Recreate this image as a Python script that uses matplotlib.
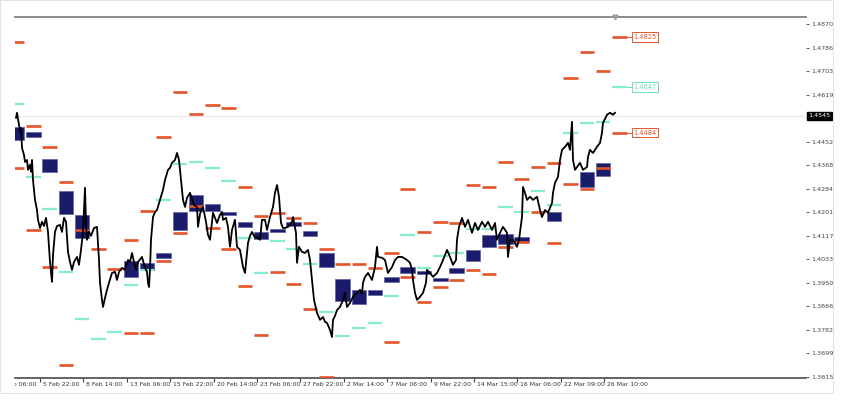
import numpy as np
import matplotlib
matplotlib.use('Agg')
import matplotlib.pyplot as plt
from matplotlib.patches import Rectangle
from matplotlib.transforms import Bbox, TransformedBbox

# close path, x = bar index
price_t = [-24, -23, -21, -20, -19, -18, -16, -15, -13, -12,
           -10, -9, -8, -7, -5, -3, -2, 0, 2, 4,
           6, 8, 10, 12, 13, 15, 17, 20, 22, 24,
           26, 28, 30, 32, 34, 37, 39, 41, 43, 45,
           46, 47, 49, 51, 54, 57, 59, 60, 62, 63,
           65, 67, 69, 72, 75, 77, 79, 82, 85, 88,
           90, 92, 94, 96, 98, 102, 105, 107, 108, 109,
           110, 111, 113, 115, 117, 120, 123, 125, 128, 130,
           132, 135, 137, 139, 140, 142, 143, 145, 147, 150,
           154, 157, 158, 160, 163, 166, 168, 170, 173, 177,
           180, 182, 183, 186, 188, 190, 192, 195, 197, 200,
           203, 205, 208, 210, 212, 215, 217, 220, 222, 225,
           227, 230, 233, 235, 237, 239, 241, 243, 245, 248,
           252, 253, 256, 257, 259, 262, 265, 268, 270, 272,
           274, 277, 280, 283, 285, 287, 290, 292, 293, 295,
           297, 300, 303, 305, 307, 310, 313, 317, 320, 322,
           323, 325, 328, 332, 335, 337, 338, 342, 345, 348,
           352, 355, 358, 362, 367, 370, 372, 373, 375, 377,
           380, 383, 386, 387, 390, 393, 397, 400, 403, 407,
           410, 413, 416, 417, 419, 422, 425, 428, 432, 435,
           438, 442, 445, 448, 452, 455, 457, 459, 463, 467,
           468, 470, 473, 477, 479, 482, 483, 485, 487, 490,
           493, 497, 500, 502, 505, 508, 512, 513, 515, 518,
           520, 522, 525, 528, 530, 532, 533, 535, 537, 540,
           543, 547, 548, 550, 553, 557, 560, 562, 563, 567,
           570, 573, 575]
price_v = [1.4537, 1.4555, 1.4512, 1.4487, 1.4501, 1.4430, 1.4405, 1.4380, 1.4387, 1.4352,
           1.4370, 1.4345, 1.4387, 1.4316, 1.4245, 1.4209, 1.4174, 1.4145, 1.4167, 1.4152,
           1.4181, 1.4131, 1.4024, 1.3953, 1.4049, 1.4131, 1.4152, 1.4156, 1.4131, 1.4181,
           1.4167, 1.4060, 1.4024, 1.3996, 1.4024, 1.4042, 1.4014, 1.4067, 1.4131, 1.4288,
           1.4156, 1.4103, 1.4131, 1.4117, 1.4145, 1.4149, 1.4031, 1.3950, 1.3889, 1.3864,
           1.3896, 1.3925, 1.3950, 1.3985, 1.3989, 1.3960, 1.3989, 1.4003, 1.3996, 1.4031,
           1.4024, 1.4056, 1.4024, 1.3996, 1.4024, 1.4042, 1.4003, 1.3989, 1.3950, 1.3935,
           1.3996, 1.4103, 1.4184, 1.4202, 1.4209, 1.4245, 1.4281, 1.4316, 1.4352, 1.4359,
           1.4377, 1.4387, 1.4412, 1.4387, 1.4352, 1.4281, 1.4245, 1.4220, 1.4252, 1.4270,
           1.4227, 1.4220, 1.4149, 1.4195, 1.4220, 1.4167, 1.4120, 1.4103, 1.4199, 1.4163,
           1.4192, 1.4202, 1.4174, 1.4181, 1.4149, 1.4078, 1.4138, 1.4174, 1.4078, 1.4067,
           1.4006, 1.3985, 1.4092, 1.4117, 1.4131, 1.4110, 1.4113, 1.4103, 1.4174, 1.4174,
           1.4138, 1.4184, 1.4220, 1.4270, 1.4298, 1.4256, 1.4163, 1.4145, 1.4145, 1.4149,
           1.4167, 1.4184, 1.4128, 1.4021, 1.4078, 1.4060, 1.4056, 1.4067, 1.4031, 1.3960,
           1.3889, 1.3843, 1.3818, 1.3828, 1.3811, 1.3807, 1.3782, 1.3757, 1.3818, 1.3832,
           1.3853, 1.3864, 1.3889, 1.3914, 1.3864, 1.3878, 1.3900, 1.3914, 1.3925, 1.3910,
           1.3950, 1.3971, 1.3985, 1.3960, 1.4006, 1.4078, 1.4042, 1.4039, 1.4031, 1.3985,
           1.4006, 1.4031, 1.4042, 1.4042, 1.4031, 1.4021, 1.3996, 1.3960, 1.3914, 1.3889,
           1.3900, 1.3914, 1.3950, 1.3996, 1.3985, 1.3971, 1.3985, 1.4006, 1.4031, 1.4067,
           1.4042, 1.4014, 1.4031, 1.4103, 1.4149, 1.4181, 1.4149, 1.4174, 1.4128, 1.4163,
           1.4138, 1.4167, 1.4149, 1.4167, 1.4138, 1.4163, 1.4103, 1.4120, 1.4149, 1.4128,
           1.4042, 1.4103, 1.4103, 1.4078, 1.4103, 1.4184, 1.4291, 1.4270, 1.4245, 1.4256,
           1.4245, 1.4256, 1.4209, 1.4184, 1.4209, 1.4199, 1.4234, 1.4270, 1.4306, 1.4327,
           1.4387, 1.4423, 1.4434, 1.4448, 1.4423, 1.4523, 1.4387, 1.4352, 1.4362, 1.4377,
           1.4352, 1.4362, 1.4398, 1.4423, 1.4412, 1.4434, 1.4448, 1.4484, 1.4519, 1.4548,
           1.4555, 1.4548, 1.4555]
last_price = 1.4545

# daily bodies
box_day = [-1, 0, 1, 2, 3, 6, 7, 8, 9, 10, 11, 12, 13, 14, 15, 16, 17,
           18, 19, 20, 21, 22, 23, 24, 25, 26, 27, 28, 29, 30, 32, 34, 35]
box_hi = [1.4505, 1.4487, 1.4391, 1.4277, 1.4192, 1.4028, 1.4021, 1.4056, 1.4202, 1.4263, 1.4231,
          1.4202, 1.4167, 1.4131, 1.4142, 1.4167, 1.4135, 1.4056, 1.3964, 1.3925, 1.3925, 1.3971,
          1.4006, 1.3992, 1.3967, 1.4003, 1.4067, 1.4120, 1.4124, 1.4113, 1.4202, 1.4345, 1.4377]
box_lo = [1.4459, 1.4469, 1.4345, 1.4195, 1.4110, 1.3971, 1.3996, 1.4039, 1.4138, 1.4206, 1.4206,
          1.4192, 1.4149, 1.4106, 1.4131, 1.4152, 1.4117, 1.4006, 1.3885, 1.3875, 1.3907, 1.3953,
          1.3985, 1.3982, 1.3957, 1.3985, 1.4028, 1.4078, 1.4088, 1.4095, 1.4170, 1.4291, 1.4330]

# orange levels
orange_day = [-1, -1, 0, 0, 1, 1, 2, 2, 3, 4, 5, 6, 6, 7, 7, 8, 8, 9, 9, 10, 10, 11, 11,
              12, 12, 13, 13, 14, 14, 15, 15, 16, 16, 17, 17, 18, 18, 19, 20, 21, 22, 22,
              23, 23, 24, 24, 25, 25, 26, 26, 27, 27, 28, 28, 29, 29, 30, 30, 31, 31,
              32, 32, 33, 33, 34, 34, 35, 35, 36, 36]
orange_lvl = [1.4807, 1.4359, 1.4508, 1.4138, 1.4434, 1.4006, 1.4309, 1.3658, 1.4138, 1.4071,
              1.3999, 1.4103, 1.3772, 1.4206, 1.3772, 1.4469, 1.4028, 1.4629, 1.4128, 1.4551,
              1.4224, 1.4583, 1.4145, 1.4573, 1.4071, 1.4291, 1.3939, 1.4188, 1.3764, 1.4199,
              1.3989, 1.4181, 1.3946, 1.4163, 1.3857, 1.4071, 1.3613, 1.4017, 1.4017, 1.4003,
              1.4056, 1.3739, 1.4284, 1.3971, 1.4131, 1.3882, 1.4167, 1.3935, 1.4163, 1.3960,
              1.4298, 1.3996, 1.4291, 1.3982, 1.4380, 1.4078, 1.4320, 1.4095, 1.4362, 1.4202,
              1.4377, 1.4092, 1.4679, 1.4302, 1.4772, 1.4284, 1.4704, 1.4359, 1.4825, 1.4484]

# aquamarine levels, one per day from -1 to 36
aqua_day = list(range(-1, 37))
aqua_lvl = [1.4587, 1.4327, 1.4213, 1.3989, 1.3821, 1.3750, 1.3775, 1.3942, 1.3996, 1.4245,
            1.4373, 1.4380, 1.4359, 1.4313, 1.4110, 1.3985, 1.4099, 1.4071, 1.4017, 1.3846,
            1.3761, 1.3789, 1.3807, 1.3903, 1.4120, 1.4003, 1.4046, 1.4056, 1.4142, 1.4142,
            1.4220, 1.4202, 1.4277, 1.4227, 1.4484, 1.4519, 1.4523, 1.4647]

# labelled levels on the last day
tag_lvl = [1.4825, 1.4647, 1.4484]
tag_col = ['#e2572a', '#6fdcc0', '#e2572a']

x_labels = ['1 Feb 06:00', '5 Feb 22:00', '8 Feb 14:00', '13 Feb 06:00', '15 Feb 22:00',
            '20 Feb 14:00', '23 Feb 06:00', '27 Feb 22:00', '2 Mar 14:00', '7 Mar 06:00',
            '9 Mar 22:00', '14 Mar 15:00', '16 Mar 06:00', '22 Mar 09:00', '26 Mar 10:00']

DAY_LEN = 16.28
DAY0 = -14.0
BODY_W = 14.5
LABEL_STEP = 43.4


def day_x(d):
    return DAY0 + np.asarray(d, dtype=float) * DAY_LEN


fig = plt.figure(figsize=(8.57, 4.0), dpi=100)
ax = fig.add_axes([15 / 857, 22 / 400, 791 / 857, 361 / 400])
ax.set_xlim(-25, 766)
ax.set_ylim(1.3611, 1.4896)

ax.axhline(last_price, color='#e6e6e6', lw=0.8, zorder=1)

for d, hi, lo in zip(box_day, box_hi, box_lo):
    ax.add_patch(Rectangle((day_x(d), lo), BODY_W, hi - lo, facecolor='#1b1b6b',
                           edgecolor='#6a6aa8', lw=0.6, zorder=2))

ox = day_x(orange_day)
ax.hlines(orange_lvl, ox, ox + BODY_W, color='#e4532a', lw=1.9, zorder=3)
aqx = day_x(aqua_day)
ax.hlines(aqua_lvl, aqx, aqx + BODY_W, color='#86ecd0', lw=1.6, zorder=3)

ax.plot(price_t, price_v, color='black', lw=1.3, zorder=4)

# level tags
x36 = day_x(36) + BODY_W
for v, c in zip(tag_lvl, tag_col):
    ax.plot([x36, x36 + 6], [v, v], color=c, lw=0.7, zorder=3)
    ax.text(x36 + 7, v, f'{v:.4f}', fontsize=4.8, color=c, va='center', ha='left',
            bbox=dict(boxstyle='square,pad=0.25', facecolor='white', edgecolor=c, lw=0.7))

# spines / axes
for s in ['left', 'right']:
    ax.spines[s].set_visible(False)
ax.spines['top'].set_color('#8c8c8c')
ax.spines['top'].set_linewidth(1.4)
ax.spines['bottom'].set_color('#4a4a4a')
ax.spines['bottom'].set_linewidth(1.2)

ax.yaxis.tick_right()
yt = np.linspace(1.3615, 1.4870, 16)
ax.set_yticks(yt)
# the label under the current price tag is hidden
ax.set_yticklabels(['' if abs(v - last_price) < 0.002 else f'{v:.4f}' for v in yt])
ax.tick_params(axis='y', labelsize=4.6, length=2, width=0.6, colors='#444444', pad=2)

xt = np.arange(0, 14) * LABEL_STEP
ax.set_xticks(xt)
ax.set_xticklabels([])
ax.tick_params(axis='x', length=3, width=0.8, colors='#444444')

clip = TransformedBbox(Bbox([[15 / 857, 0], [1, 1]]), fig.transFigure)
for i, lab in enumerate(x_labels):
    t = ax.text((i - 1) * LABEL_STEP + 3, -0.012, lab, fontsize=4.4, color='#333333',
                ha='left', va='top', transform=ax.get_xaxis_transform())
    t.set_clip_box(clip)
    t.set_clip_on(True)

# current price tag
ax.text(1.003, last_price, f'{last_price:.4f}', transform=ax.get_yaxis_transform(),
        fontsize=4.6, color='white', va='center', ha='left',
        bbox=dict(boxstyle='square,pad=0.25', facecolor='black', edgecolor='black'))

# chart shift marker
ax.plot([575], [1.4896], marker='v', color='#a0a0a0', markersize=3.5, clip_on=False, zorder=5)

fig.add_artist(Rectangle((0, 7 / 400), 833 / 857, 393 / 400, transform=fig.transFigure,
                         fill=False, edgecolor='#e2e2e2', lw=0.8))

fig.savefig('out.png', dpi=100)
